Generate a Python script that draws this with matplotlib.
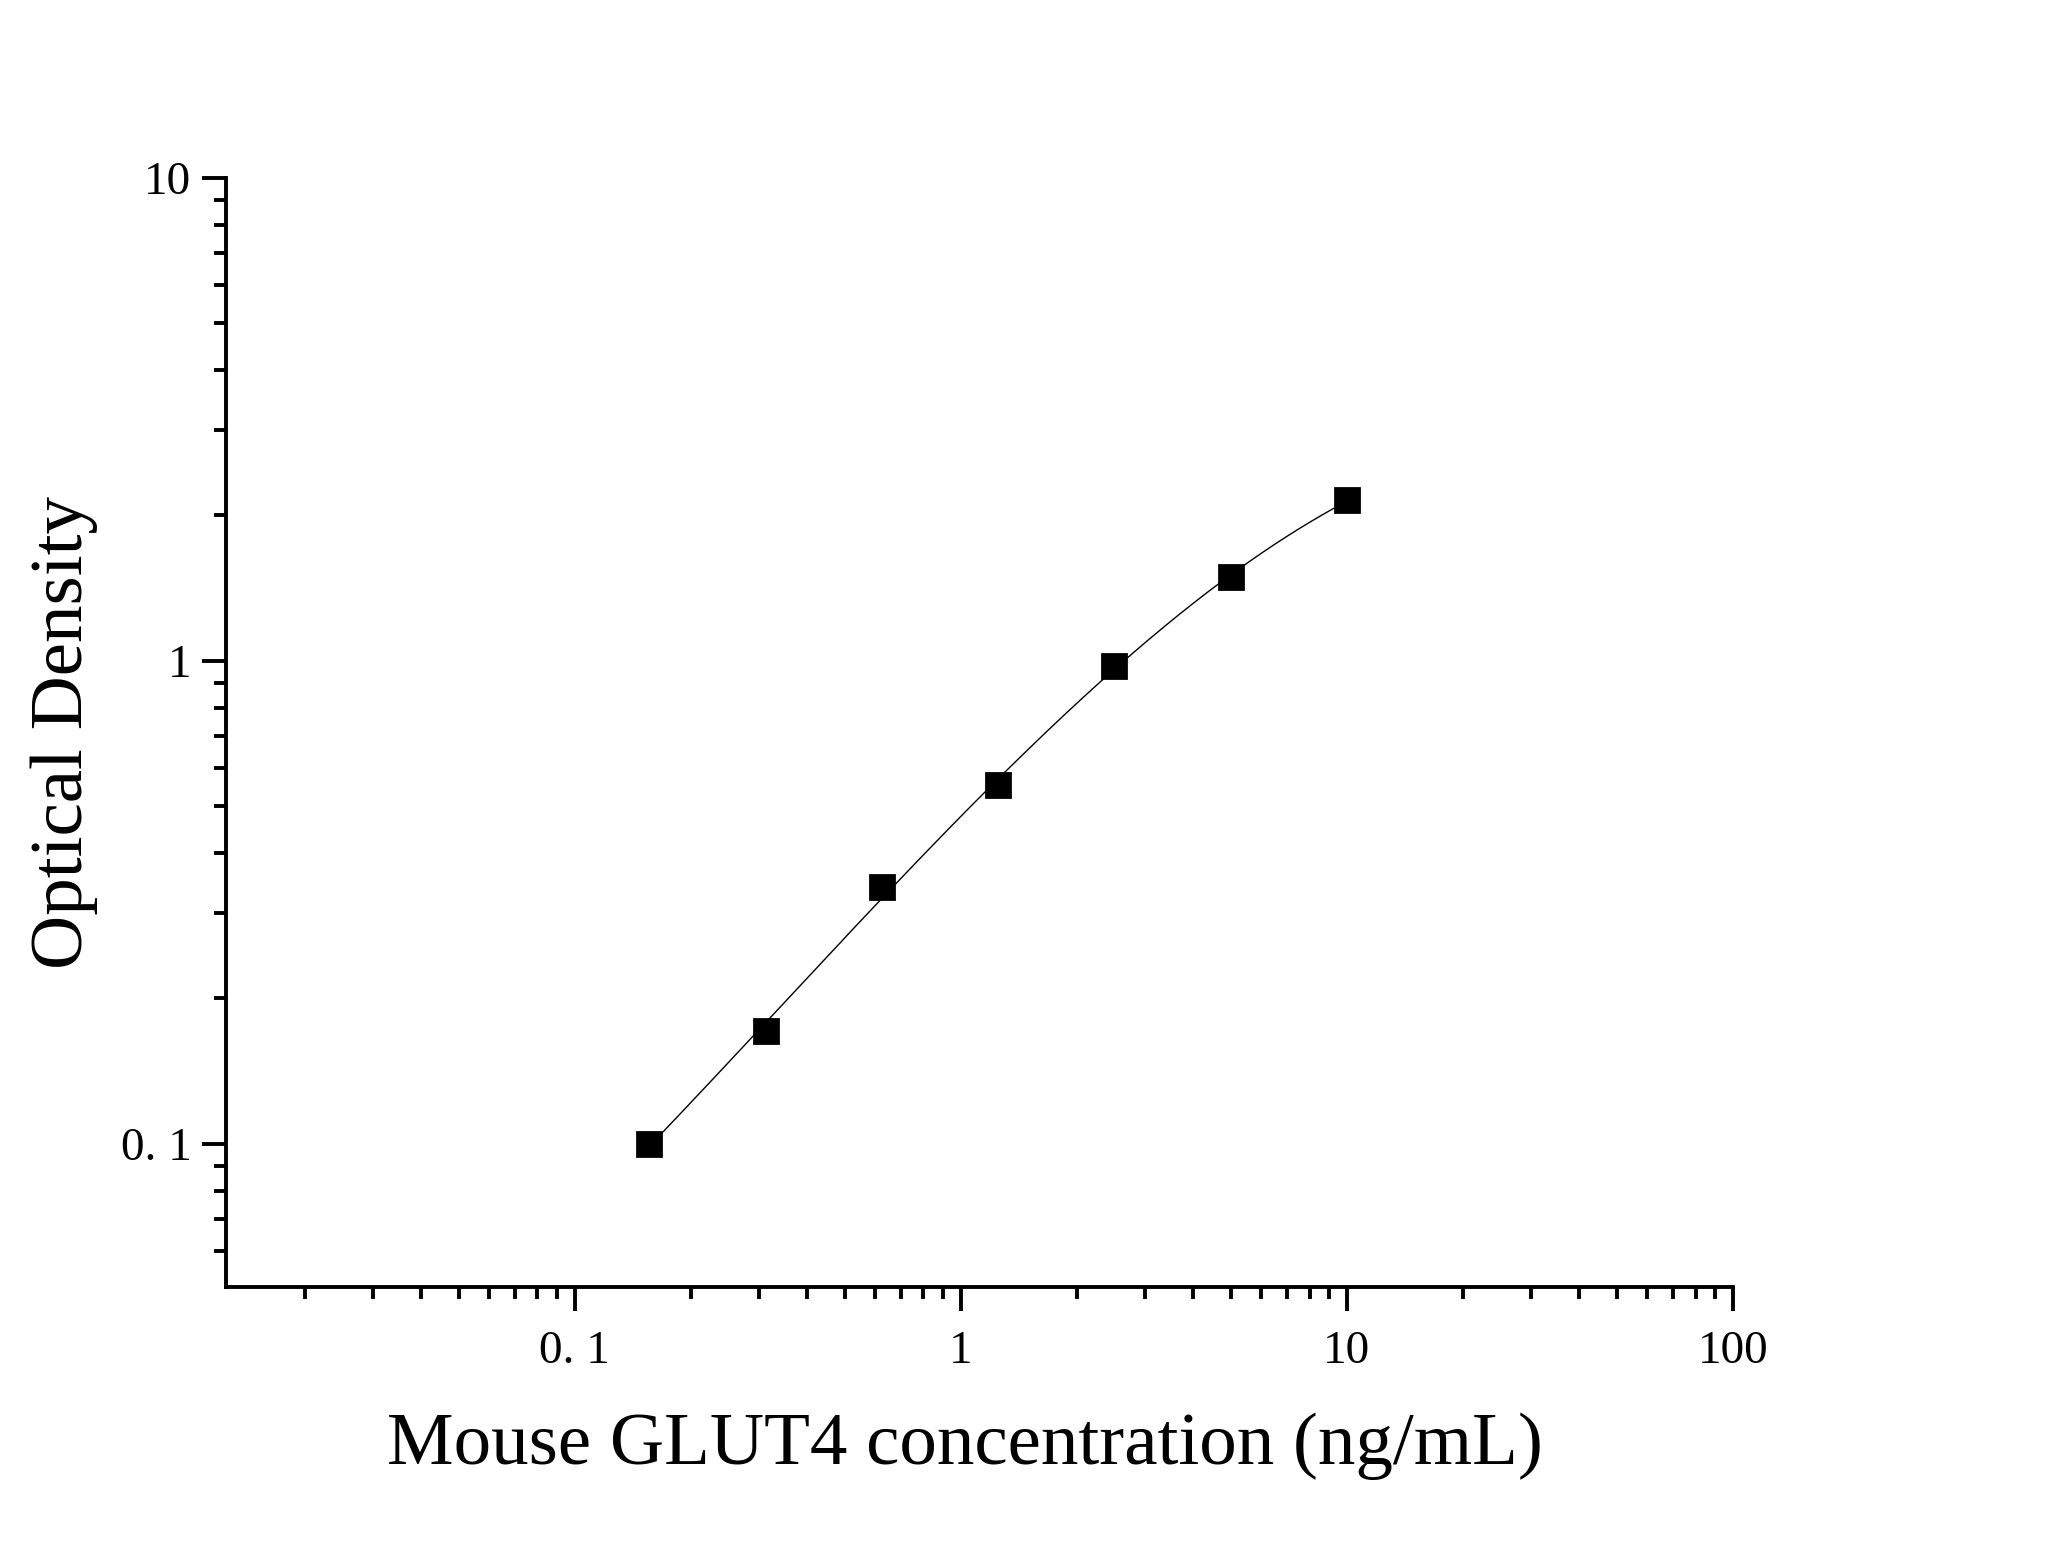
import numpy as np
import matplotlib
matplotlib.use("Agg")
import matplotlib.pyplot as plt
from matplotlib.ticker import LogLocator, NullFormatter, FixedLocator, FixedFormatter

plt.rcParams['font.family'] = ['Liberation Serif', 'DejaVu Serif']

# standard curve data
conc = [0.156, 0.3125, 0.625, 1.25, 2.5, 5, 10]
od = [0.100, 0.171, 0.340, 0.553, 0.975, 1.49, 2.15]

x_ticks = [0.1, 1, 10, 100]
x_labels = ["0. 1", "1", "10", "100"]
y_ticks = [0.1, 1, 10]
y_labels = ["0. 1", "1", "10"]

fig = plt.figure(figsize=(10.24, 7.73), dpi=200)
ax = fig.add_axes([0.1104, 0.1675, 0.7358, 0.7174])

# smooth fitted curve in log-log space
lx = np.log10(conc)
ly = np.log10(od)
coef = np.polyfit(lx, ly, 3)
xs = np.linspace(lx[0], lx[-1], 300)
ax.plot(10**xs, 10**np.polyval(coef, xs), color='black', lw=0.5)
ax.plot(conc, od, linestyle='none', marker='s', ms=8.5, color='black')

ax.set_xscale('log')
ax.set_yscale('log')
ax.set_xlim(0.0125, 100)
ax.set_ylim(0.0505, 10)

ax.xaxis.set_major_locator(FixedLocator(x_ticks))
ax.xaxis.set_major_formatter(FixedFormatter(x_labels))
ax.yaxis.set_major_locator(FixedLocator(y_ticks))
ax.yaxis.set_major_formatter(FixedFormatter(y_labels))
ax.xaxis.set_minor_locator(LogLocator(base=10, subs=np.arange(2, 10), numticks=20))
ax.yaxis.set_minor_locator(LogLocator(base=10, subs=np.arange(2, 10), numticks=20))
ax.xaxis.set_minor_formatter(NullFormatter())
ax.yaxis.set_minor_formatter(NullFormatter())

for s in ['top', 'right']:
    ax.spines[s].set_visible(False)
for s in ['left', 'bottom']:
    ax.spines[s].set_linewidth(1.4)

ax.tick_params(which='major', direction='out', length=8.5, width=1.4, labelsize=17, pad=7)
ax.tick_params(which='minor', direction='out', length=4.3, width=1.4)
ax.tick_params(axis='y', which='major', pad=4)

ax.set_xlabel('Mouse GLUT4 concentration (ng/mL)', fontsize=27)
ax.set_ylabel('Optical Density', fontsize=27, labelpad=8)
ax.xaxis.set_label_coords(0.49, -0.113, transform=ax.transAxes)
ax.xaxis.label.set_va('top')

fig.savefig('out.png', dpi=200, facecolor='white')
